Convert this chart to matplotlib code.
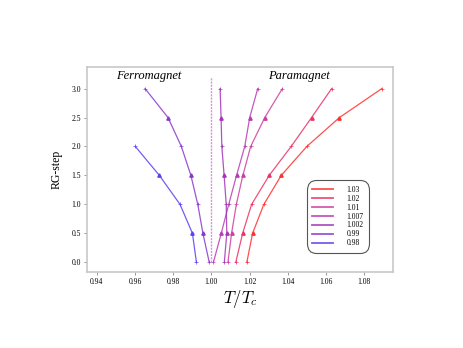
import matplotlib
matplotlib.use("Agg")
import matplotlib.pyplot as plt

# RG steps (integer steps with '+', half steps with triangles)
steps = [0, 0.5, 1, 1.5, 2, 2.5, 3]
steps_098 = [0, 0.5, 1, 1.5, 2]

labels = ["1.03", "1.02", "1.01", "1.007", "1.002", "0.99", "0.98"]
t_103 = [1.0186, 1.0216, 1.0275, 1.0366, 1.0500, 1.0671, 1.0893]
t_102 = [1.0128, 1.0164, 1.0211, 1.0303, 1.0418, 1.0525, 1.0630]
t_101 = [1.0087, 1.0106, 1.0131, 1.0165, 1.0206, 1.0280, 1.0372]
t_1007 = [1.0011, 1.0052, 1.0091, 1.0132, 1.0175, 1.0201, 1.0243]
t_1002 = [1.0068, 1.0081, 1.0078, 1.0067, 1.0055, 1.0051, 1.0046]
t_099 = [0.9989, 0.9956, 0.9929, 0.9893, 0.9843, 0.9773, 0.9653]
t_098 = [0.9922, 0.9901, 0.9836, 0.9728, 0.9602]

critical_x = [1.0, 1.0]
critical_y = [0.0, 3.2]

colors = ["#ff3030", "#ea3366", "#cc3fa0", "#b83cb3", "#a235b8", "#8a38cc", "#5a42f0"]
series = [t_103, t_102, t_101, t_1007, t_1002, t_099, t_098]
ys = [steps, steps, steps, steps, steps, steps, steps_098]

plt.rcParams['font.family'] = ['Liberation Serif', 'DejaVu Serif']
plt.rcParams['mathtext.fontset'] = 'cm'

fig = plt.figure(figsize=(4.63, 3.48), dpi=100)
ax = fig.add_axes([0.188, 0.218, 0.661, 0.589])

for xs, yy, c, lab in zip(series, ys, colors, labels):
    ax.plot(xs, yy, color=c, lw=0.9, alpha=0.85, label=lab)
    ax.plot(xs[0::2], yy[0::2], ls='none', marker='+', ms=2.5, mew=0.5, color=c)
    ax.plot(xs[1::2], yy[1::2], ls='none', marker='^', ms=2.4, color=c,
            markeredgecolor=c)

ax.plot(critical_x, critical_y, color='#d890e0', lw=1.0, ls=(0, (1.5, 0.8)))

ax.set_xlim(0.9349, 1.0952)
ax.set_ylim(-0.17, 3.37)
ax.set_xticks([0.94, 0.96, 0.98, 1.00, 1.02, 1.04, 1.06, 1.08])
ax.set_yticks([0.0, 0.5, 1.0, 1.5, 2.0, 2.5, 3.0])
ax.set_xticklabels(["0.94", "0.96", "0.98", "1.00", "1.02", "1.04", "1.06", "1.08"])
ax.set_yticklabels(["0.0", "0.5", "1.0", "1.5", "2.0", "2.5", "3.0"])
ax.tick_params(labelsize=5.5, length=2.5, width=0.6, color='#888888', pad=2)

for s in ax.spines.values():
    s.set_color('#c8c8c8')
    s.set_linewidth(1.2)

ax.set_xlabel(r"$T/T_c$", fontsize=12, labelpad=1)
ax.set_ylabel("RG-step", fontsize=8.5, labelpad=6)

ax.text(0.9671, 3.21, "Ferromagnet", fontsize=9, style='italic', ha='center', va='center')
ax.text(1.0457, 3.21, "Paramagnet", fontsize=9, style='italic', ha='center', va='center')

leg = ax.legend(loc='lower right', bbox_to_anchor=(0.922, 0.095), fontsize=5.5,
                frameon=True, fancybox=True, edgecolor='#555555', framealpha=1,
                handlelength=2.7, labelspacing=0.12, borderpad=0.7, handletextpad=1.8,
                borderaxespad=0)
leg.get_frame().set_linewidth(0.8)
leg.get_frame().set_boxstyle('round', pad=0, rounding_size=1.2)
for h in leg.get_lines():
    h.set_linewidth(1.3)

fig.savefig("out.png", dpi=100)
